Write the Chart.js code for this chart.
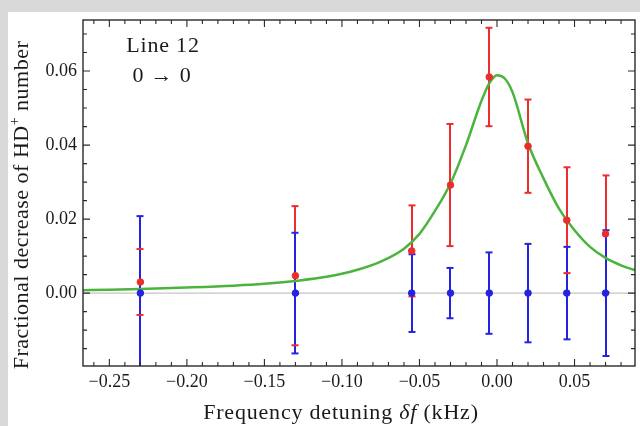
<!DOCTYPE html>
<html>
<head>
<meta charset="utf-8">
<script src="https://cdn.jsdelivr.net/npm/chart.js@4.4.1/dist/chart.umd.min.js"></script>
<style>
    html, body { margin: 0; padding: 0; background: #d9d9d9; }
    #panel { position: absolute; left: 8px; top: 12px; width: 632px; height: 414px; background: #fff; }
    #chart { display: block; }
</style>
</head>
<body>
<div id="panel"><canvas id="chart" width="632" height="414"></canvas></div>
<script>
// measured points (kHz / fractional decrease)
var detuning   = [-0.23, -0.13, -0.055, -0.03, -0.005, 0.02, 0.045, 0.07];
var signal     = [0.0030, 0.0047, 0.0114, 0.0292, 0.0584, 0.0397, 0.0197, 0.0160];
var signalErr  = [0.0089, 0.0188, 0.0123, 0.0165, 0.0133, 0.0126, 0.0143, 0.0158];
var reference    = [0, 0, 0, 0, 0, 0, 0, 0];
var referenceErr = [0.0208, 0.0163, 0.0105, 0.0068, 0.0110, 0.0133, 0.0125, 0.0170];

// fitted line profile
var fitX = [-0.267, -0.25, -0.23, -0.20, -0.17, -0.15, -0.13, -0.11, -0.09, -0.075, -0.06, -0.05, -0.04, -0.03,
            -0.02, -0.01, -0.005, 0, 0.005, 0.01, 0.02, 0.03, 0.04, 0.05, 0.06, 0.07, 0.08, 0.089];
var fitY = [0.0008, 0.0009, 0.0011, 0.0015, 0.0020, 0.0025, 0.0033, 0.0044, 0.0063, 0.0085, 0.0120, 0.0160, 0.0222, 0.0296,
            0.0400, 0.0520, 0.0567, 0.0589, 0.0580, 0.0543, 0.0405, 0.0310, 0.0228, 0.0170, 0.0125, 0.0095, 0.0075, 0.0062];

var xTicks = [-0.25, -0.20, -0.15, -0.10, -0.05, 0.00, 0.05];
var yTicks = [0.00, 0.02, 0.04, 0.06];

var RED = 'rgb(236, 45, 45)';
var BLUE = 'rgb(35, 35, 225)';
var GREEN = 'rgb(75, 180, 60)';
var SERIF = '"Liberation Serif", "DejaVu Serif", serif';

function toPoints(xs, ys)
{
    return xs.map(function (x, i) { return {x: x, y: ys[i]}; });
}

function fmt(v)
{
    var s = Math.abs(v).toFixed(2);
    return v < -1e-9 ? '\u2212' + s : s;
}

// text made of several font runs, drawn left to right
function richText(ctx, runs, x, y, align)
{
    var total = 0;
    runs.forEach(function (r) {
        ctx.font = r.font;
        total += ctx.measureText(r.t).width;
    });
    var cx = align === 'center' ? x - total / 2 : x;
    runs.forEach(function (r) {
        ctx.font = r.font;
        ctx.fillText(r.t, cx, y + (r.dy || 0));
        cx += ctx.measureText(r.t).width;
    });
}

var errorBars = {
    id: 'errorBars',
    beforeDatasetsDraw: function (chart) {
        var ctx = chart.ctx, xs = chart.scales.x, ys = chart.scales.y, a = chart.chartArea;
        ctx.save();

        // zero line
        ctx.strokeStyle = '#c4c4c4';
        ctx.lineWidth = 1.2;
        ctx.beginPath();
        ctx.moveTo(a.left, ys.getPixelForValue(0));
        ctx.lineTo(a.right, ys.getPixelForValue(0));
        ctx.stroke();

        ctx.beginPath();
        ctx.rect(a.left, a.top, a.right - a.left, a.bottom - a.top);
        ctx.clip();

        var sets = [
            {y: signal, e: signalErr, c: RED},
            {y: reference, e: referenceErr, c: BLUE}
        ];
        ctx.lineWidth = 2;
        sets.forEach(function (s) {
            ctx.strokeStyle = s.c;
            detuning.forEach(function (d, i) {
                var px = Math.round(xs.getPixelForValue(d));
                var top = ys.getPixelForValue(s.y[i] + s.e[i]);
                var bot = ys.getPixelForValue(s.y[i] - s.e[i]);
                ctx.beginPath();
                ctx.moveTo(px, top);
                ctx.lineTo(px, bot);
                ctx.stroke();
            });
        });
        sets.reverse().forEach(function (s) {
            ctx.strokeStyle = s.c;
            detuning.forEach(function (d, i) {
                var px = Math.round(xs.getPixelForValue(d));
                [s.y[i] + s.e[i], s.y[i] - s.e[i]].forEach(function (v) {
                    var py = ys.getPixelForValue(v);
                    ctx.beginPath();
                    ctx.moveTo(px - 3.5, py);
                    ctx.lineTo(px + 3.5, py);
                    ctx.stroke();
                });
            });
        });
        ctx.restore();
    }
};

var frame = {
    id: 'frame',
    afterDatasetsDraw: function (chart) {
        var ctx = chart.ctx, xs = chart.scales.x, ys = chart.scales.y, a = chart.chartArea;
        var v, p, len;
        ctx.save();
        ctx.strokeStyle = '#2a2a2a';
        ctx.lineWidth = 1.4;
        ctx.strokeRect(a.left, a.top, a.right - a.left, a.bottom - a.top);

        ctx.lineWidth = 1.1;
        ctx.beginPath();
        for (v = -26; v <= 8; v++) {
            p = xs.getPixelForValue(v / 100);
            len = v % 5 === 0 ? 7 : 4;
            ctx.moveTo(p, a.bottom); ctx.lineTo(p, a.bottom - len);
            ctx.moveTo(p, a.top); ctx.lineTo(p, a.top + len);
        }
        for (v = -3; v <= 14; v++) {
            p = ys.getPixelForValue(v / 200);
            len = v % 4 === 0 ? 7 : 4;
            ctx.moveTo(a.left, p); ctx.lineTo(a.left + len, p);
            ctx.moveTo(a.right, p); ctx.lineTo(a.right - len, p);
        }
        ctx.stroke();

        // labels inside the frame and axis titles
        ctx.fillStyle = '#1a1a1a';
        ctx.textBaseline = 'alphabetic';
        ctx.textAlign = 'left';
        ctx.letterSpacing = '0.8px';
        richText(ctx, [{t: 'Line 12', font: '22px ' + SERIF}], 155, 40, 'center');
        richText(ctx, [{t: '0 \u2192 0', font: '22px ' + SERIF}], 154, 70, 'center');

        richText(ctx, [
            {t: 'Frequency detuning ', font: '22px ' + SERIF},
            {t: '\u03b4f', font: 'italic 22px ' + SERIF},
            {t: ' (kHz)', font: '22px ' + SERIF}
        ], 333, 407, 'center');

        ctx.letterSpacing = '0.5px';
        ctx.translate(20, 193);
        ctx.rotate(-Math.PI / 2);
        richText(ctx, [
            {t: 'Fractional decrease of HD', font: '22px ' + SERIF},
            {t: '+', font: '14px ' + SERIF, dy: -9},
            {t: ' number', font: '22px ' + SERIF}
        ], 0, 0, 'center');
        ctx.restore();
    }
};

new Chart(document.getElementById('chart'), {
    type: 'scatter',
    data: {
        datasets: [
            {
                label: 'reference',
                data: toPoints(detuning, reference),
                backgroundColor: BLUE,
                borderColor: BLUE,
                pointRadius: 3.3,
                order: 1
            },
            {
                label: 'signal',
                data: toPoints(detuning, signal),
                backgroundColor: RED,
                borderColor: RED,
                pointRadius: 3.3,
                order: 2
            },
            {
                label: 'fit',
                type: 'line',
                data: toPoints(fitX, fitY),
                borderColor: GREEN,
                borderWidth: 2.5,
                pointRadius: 0,
                fill: false,
                cubicInterpolationMode: 'monotone',
                order: 3
            }
        ]
    },
    options: {
        responsive: false,
        animation: false,
        devicePixelRatio: 1,
        layout: {padding: {top: 8, right: 3, left: 0, bottom: 0}},
        plugins: {legend: {display: false}, tooltip: {enabled: false}},
        scales: {
            x: {
                type: 'linear',
                min: -0.267,
                max: 0.089,
                grid: {display: false, drawTicks: false},
                border: {display: false},
                afterBuildTicks: function (s) { s.ticks = xTicks.map(function (v) { return {value: v}; }); },
                afterFit: function (s) { s.height = 60; s.paddingLeft = 0; s.paddingRight = 0; },
                ticks: {
                    padding: 5,
                    maxRotation: 0,
                    autoSkip: false,
                    color: '#1a1a1a',
                    font: {family: SERIF, size: 18},
                    callback: function (v) { return fmt(v); }
                }
            },
            y: {
                type: 'linear',
                min: -0.0197,
                max: 0.0738,
                grid: {display: false, drawTicks: false},
                border: {display: false},
                afterBuildTicks: function (s) { s.ticks = yTicks.map(function (v) { return {value: v}; }); },
                afterFit: function (s) { s.width = 75; s.paddingTop = 0; s.paddingBottom = 0; },
                ticks: {
                    padding: 6,
                    autoSkip: false,
                    color: '#1a1a1a',
                    font: {family: SERIF, size: 18},
                    callback: function (v) { return fmt(v); }
                }
            }
        }
    },
    plugins: [errorBars, frame]
});
</script>
</body>
</html>
